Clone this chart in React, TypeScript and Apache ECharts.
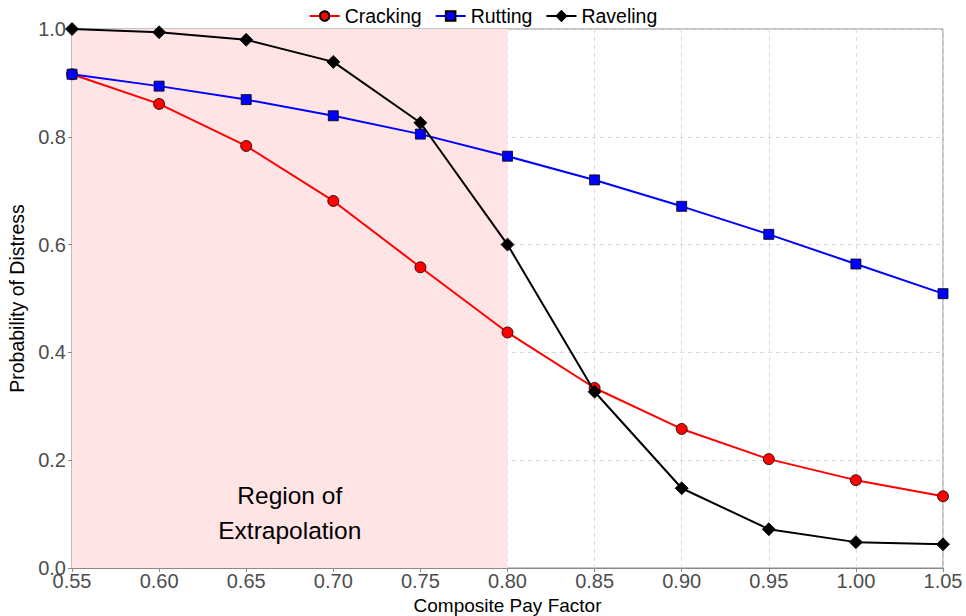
import React, { useEffect, useRef } from "react";
import * as echarts from "echarts";

const payFactors = ["0.55", "0.60", "0.65", "0.70", "0.75", "0.80", "0.85", "0.90", "0.95", "1.00", "1.05"];
const cracking = [0.916, 0.861, 0.783, 0.681, 0.558, 0.437, 0.334, 0.258, 0.202, 0.163, 0.133];
const rutting = [0.916, 0.894, 0.869, 0.839, 0.805, 0.764, 0.720, 0.671, 0.619, 0.564, 0.509];
const raveling = [1.0, 0.994, 0.980, 0.939, 0.826, 0.600, 0.327, 0.148, 0.072, 0.048, 0.044];
const regionStart = "0.55";
const regionEnd = "0.80";
const regionText = "Region of\nExtrapolation";

const FONT = "Liberation Sans, Arial, sans-serif";

export default function App() {
  const ref = useRef<HTMLDivElement>(null);
  useEffect(() => {
    const chart = echarts.init(ref.current!, null, { renderer: "svg" });
    const marker = { borderColor: "#000", borderWidth: 0.8 };
    chart.setOption({
      animation: false,
      textStyle: { fontFamily: FONT },
      legend: {
        top: 1,
        left: "center",
        itemWidth: 30,
        itemHeight: 12,
        itemGap: 13,
        textStyle: { fontSize: 19.5, color: "#000", fontFamily: FONT },
        data: ["Cracking", "Rutting", "Raveling"],
      },
      grid: {
        left: 72,
        right: 23,
        top: 29,
        bottom: 48,
        containLabel: false,
        outerBoundsMode: "none",
        show: true,
        borderColor: "#8a8a8a",
        borderWidth: 1,
      },
      xAxis: {
        type: "category",
        data: payFactors,
        boundaryGap: false,
        name: "Composite Pay Factor",
        nameLocation: "middle",
        nameGap: 23,
        nameTextStyle: { fontSize: 19, color: "#000", fontFamily: FONT },
        axisLine: { lineStyle: { color: "#8a8a8a", width: 1.2 } },
        axisTick: { show: true, alignWithLabel: true, length: 4, lineStyle: { color: "#8a8a8a" } },
        axisLabel: { fontSize: 20, color: "#4d4d4d", margin: 3, fontFamily: FONT },
        splitLine: { show: true, lineStyle: { color: "#d9d9d9", type: [4, 4], width: 1 } },
      },
      yAxis: {
        type: "value",
        min: 0,
        max: 1,
        interval: 0.2,
        name: "Probability of Distress",
        nameLocation: "middle",
        nameGap: 42,
        nameTextStyle: { fontSize: 19.5, color: "#000", fontFamily: FONT },
        axisLine: { show: true, lineStyle: { color: "#8a8a8a", width: 1.2 } },
        axisTick: { show: true, length: 4, lineStyle: { color: "#8a8a8a" } },
        axisLabel: { fontSize: 20, color: "#4d4d4d", margin: 6, fontFamily: FONT, formatter: (v: number) => v.toFixed(1) },
        splitLine: { show: true, lineStyle: { color: "#d9d9d9", type: [4, 4], width: 1 } },
      },
      series: [
        {
          name: "Cracking",
          type: "line",
          data: cracking,
          color: "#ff0000",
          symbol: "circle",
          symbolSize: 11,
          lineStyle: { width: 2, color: "#ff0000" },
          itemStyle: { color: "#ff0000", ...marker },
          z: 3,
          markArea: {
            silent: true,
            itemStyle: { color: "#ffe4e6" },
            label: {
              show: true,
              position: "insideBottom",
              distance: 20,
              fontSize: 24.5,
              lineHeight: 35,
              color: "#000",
              fontFamily: FONT,
              formatter: regionText,
            },
            data: [[{ xAxis: regionStart }, { xAxis: regionEnd }]],
          },
        },
        {
          name: "Rutting",
          type: "line",
          data: rutting,
          color: "#0000ff",
          symbol: "rect",
          symbolSize: 10,
          lineStyle: { width: 2, color: "#0000ff" },
          itemStyle: { color: "#0000ff", ...marker },
          z: 4,
        },
        {
          name: "Raveling",
          type: "line",
          data: raveling,
          color: "#000000",
          symbol: "diamond",
          symbolSize: 13,
          lineStyle: { width: 2, color: "#000" },
          itemStyle: { color: "#000", ...marker },
          z: 5,
        },
      ],
    });
    return () => chart.dispose();
  }, []);
  return <div ref={ref} style={{ width: 966, height: 616, position: "absolute", left: 0, top: 0 }} />;
}
